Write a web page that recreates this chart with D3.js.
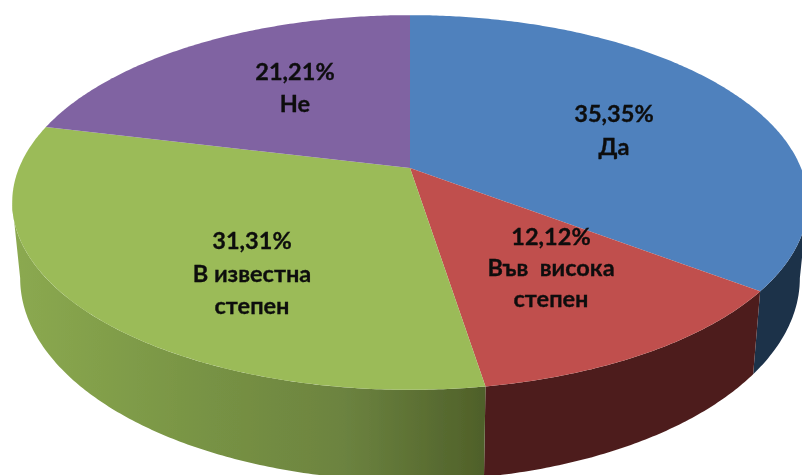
<!DOCTYPE html>
<html>
<head>
<meta charset="utf-8">
<script src="https://cdn.jsdelivr.net/npm/d3@7"></script>
<style>
    html, body { margin: 0; padding: 0; background: #fff; overflow: hidden; }
    text { font-family: Lato, "Open Sans", sans-serif; font-weight: 700; font-size: 23.5px; fill: #0b0b0b; stroke: #0b0b0b; stroke-width: 0.3; text-anchor: middle; white-space: pre; }
</style>
</head>
<body>
<div id="chart"></div>
<script>
// Chart values
const categories = ["Да", "Във висока степен", "В известна степен", "Не"];
const values = [35.35, 12.12, 31.31, 21.21];
const labelLines = [["Да"], ["Във  висока", "степен"], ["В известна", "степен"], ["Не"]];
const topColors = ["#4f81bd", "#c0504d", "#9bbb59", "#8064a2"];

const width = 802;
const height = 475;

// Perspective of the disc: apex of the slices and how much the far edge shrinks
const disc = {x: 410, y: 168, rx: 391, ry: 181, tilt: 0.184};
const lower = {y: 241, scaleX: 0.98, scaleY: 1.08};  // bottom rim of the cylinder

// Manual label spots (centre x, first baseline, line step)
const labelSpots = [
    {x: 614, y: 122, step: 33},
    {x: 551, y: 245, step: 31},
    {x: 252, y: 249, step: 32.5},
    {x: 295, y: 80, step: 32}
];

function topRim(t) {
    const w = 1 + disc.tilt * Math.cos(t);
    return [disc.x + disc.rx * Math.sin(t) / w, disc.y - disc.ry * Math.cos(t) / w];
}

function bottomRim(t) {
    const p = topRim(t);
    return [disc.x + (p[0] - disc.x) * lower.scaleX, lower.y + (p[1] - disc.y) * lower.scaleY];
}

function sampleAngles(a0, a1) {
    const n = Math.max(2, Math.ceil((a1 - a0) / 0.01));
    return d3.range(n + 1).map(i => a0 + (a1 - a0) * i / n);
}

// Only the front of the cylinder is visible, past this the wall would fold over itself
const wallStart = Math.acos(-disc.tilt);
const wallEnd = 2 * Math.PI - wallStart;

const svg = d3.select("#chart").append("svg")
    .attr("width", width)
    .attr("height", height)
    .style("display", "block");

// Side gradients run left to right like in the original
const defs = svg.append("defs");
const wallStops = [
    [["0%", "#1c3049"], ["100%", "#1c3049"]],
    [["0%", "#4e1f1d"], ["100%", "#4e1f1d"]],
    [["0%", "#8ba950"], ["35%", "#7a9645"], ["70%", "#6c8340"], ["100%", "#4f6029"]],
    [["0%", "#4a3a5e"], ["100%", "#4a3a5e"]]
];
wallStops.forEach((stops, i) => {
    const grad = defs.append("linearGradient")
        .attr("id", "wall" + i)
        .attr("gradientUnits", "userSpaceOnUse")
        .attr("x1", 15).attr("x2", 484).attr("y1", 0).attr("y2", 0);
    stops.forEach(s => grad.append("stop").attr("offset", s[0]).attr("stop-color", s[1]));
});
const soft = defs.append("filter").attr("id", "soft");
soft.append("feGaussianBlur").attr("stdDeviation", 0.5);
const softText = defs.append("filter").attr("id", "softText");
softText.append("feGaussianBlur").attr("stdDeviation", 0.35);

const pie = d3.pie().sort(null).startAngle(0).endAngle(2 * Math.PI);
const slices = pie(values);
const line = d3.line();

const chart = svg.append("g").attr("filter", "url(#soft)");

// Side walls first, the top faces cover whatever is behind them
chart.selectAll(".wall")
    .data(slices.filter(d => d.startAngle < wallEnd && d.endAngle > wallStart))
    .enter()
    .append("path")
        .attr("class", "wall")
        .attr("fill", d => "url(#wall" + d.index + ")")
        .attr("d", d => {
            const angles = sampleAngles(Math.max(d.startAngle, wallStart), Math.min(d.endAngle, wallEnd));
            const pts = angles.map(topRim).concat(angles.slice().reverse().map(bottomRim));
            return line(pts) + "Z";
        });

// Top faces
chart.selectAll(".slice")
    .data(slices)
    .enter()
    .append("path")
        .attr("class", "slice")
        .attr("fill", (d, i) => topColors[i])
        .attr("d", d => {
            const pts = [[disc.x, disc.y]].concat(sampleAngles(d.startAngle, d.endAngle).map(topRim));
            return line(pts) + "Z";
        });

// Labels: value then category, comma as decimal mark
const fmt = d3.format(".2f");
const labels = svg.selectAll(".label")
    .data(slices)
    .enter()
    .append("text")
        .attr("class", "label")
        .attr("filter", "url(#softText)")
        .attr("x", (d, i) => labelSpots[i].x)
        .attr("y", (d, i) => labelSpots[i].y);

labels.each(function(d, i) {
    const spot = labelSpots[i];
    const rows = [fmt(d.value).replace(".", ",") + "%"].concat(labelLines[i]);
    d3.select(this).selectAll("tspan")
        .data(rows)
        .enter()
        .append("tspan")
            .attr("x", spot.x)
            .attr("y", (r, j) => spot.y + j * spot.step)
            .text(r => r);
});
</script>
</body>
</html>
